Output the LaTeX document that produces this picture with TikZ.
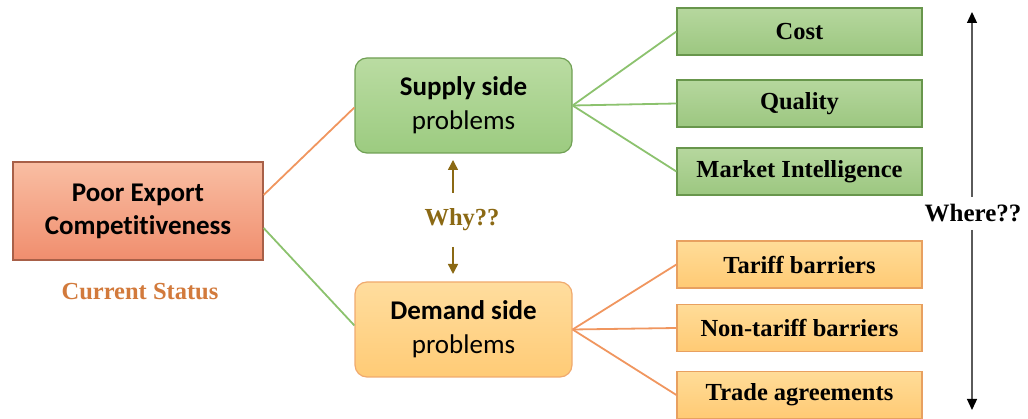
\documentclass[tikz,border=0pt]{standalone}
\usepackage{fontspec}
\setmainfont{Liberation Serif}
\newfontfamily\calibri[Ligatures=NoCommon]{Carlito}
\usetikzlibrary{arrows.meta}

\tikzset{every picture/.style={line width=0.5pt}}
\tikzset{
  mainbox/.style={draw={rgb,255:red,168;green,96;blue,72}, line width=1.2pt, top color={rgb,255:red,249;green,190;blue,163}, bottom color={rgb,255:red,240;green,142;blue,110}, minimum width=250pt, minimum height=98pt, align=center, inner sep=0pt, font=\calibri\bfseries\fontsize{27}{33}\selectfont},
  supplybox/.style={draw={rgb,255:red,112;green,160;blue,84}, line width=1.2pt, rounded corners=12pt, top color={rgb,255:red,186;green,220;blue,162}, bottom color={rgb,255:red,156;green,203;blue,128}, minimum width=217pt, minimum height=95pt, align=center, inner sep=0pt, font=\calibri\fontsize{27}{34}\selectfont},
  demandbox/.style={draw={rgb,255:red,240;green,170;blue,110}, line width=1.2pt, rounded corners=12pt, top color={rgb,255:red,255;green,221;blue,158}, bottom color={rgb,255:red,255;green,203;blue,118}, minimum width=217pt, minimum height=95pt, align=center, inner sep=0pt, font=\calibri\fontsize{27}{34}\selectfont},
  greenitem/.style={draw={rgb,255:red,104;green,150;blue,76}, line width=1.2pt, top color={rgb,255:red,182;green,215;blue,158}, bottom color={rgb,255:red,156;green,199;blue,128}, minimum width=245pt, minimum height=47pt, inner sep=0pt, font=\bfseries\fontsize{24.5}{28}\selectfont},
  orangeitem/.style={draw={rgb,255:red,232;green,160;blue,96}, line width=1.2pt, top color={rgb,255:red,255;green,220;blue,152}, bottom color={rgb,255:red,255;green,202;blue,116}, minimum width=245pt, minimum height=47pt, inner sep=0pt, font=\bfseries\fontsize{24.5}{28}\selectfont},
  greenline/.style={draw={rgb,255:red,140;green,194;blue,110}, line width=1.8pt},
  orangeline/.style={draw={rgb,255:red,240;green,150;blue,95}, line width=1.8pt},
  whyarrow/.style={draw={rgb,255:red,139;green,105;blue,20}, line width=1.4pt, -{Triangle[length=10pt,width=10pt]}},
  wherearrow/.style={draw={rgb,255:red,90;green,90;blue,90}, line width=1.3pt, -{Triangle[length=11pt,width=10pt,fill=black,color=black]}}
}

\begin{document}
\begin{tikzpicture}[x=1pt,y=1pt,yscale=-1,xscale=1]
\useasboundingbox (0,0) rectangle (1028,419);

%Shape: Rectangle
\node [mainbox] (poor) at (138,211) {Poor Export\\Competitiveness};
% Text Node
\node [text={rgb,255:red,210;green,122;blue,60}, font=\bfseries\fontsize{24.5}{28}\selectfont] (status) at (140,292) {Current Status};

%Rounded Rect
\node [supplybox] (supply) at (463.5,105.5) {\textbf{Supply side}\\problems};
%Rounded Rect
\node [demandbox] (demand) at (463.5,329.5) {\textbf{Demand side}\\problems};

%Shape: Rectangle
\node [greenitem] (cost) at (799.5,31.5) {Cost};
\node [greenitem] (quality) at (799.5,103.5) {Quality};
\node [greenitem] (market) at (799.5,171.5) {Market Intelligence};
%Shape: Rectangle
\node [orangeitem] (tariff) at (799.5,264.5) {Tariff barriers};
\node [orangeitem] (nontariff) at (799.5,328) {Non-tariff barriers};
\node [orangeitem] (trade) at (799.5,395) {Trade agreements};

%Straight Lines
\draw [orangeline] ([yshift=-16pt]poor.east) -- ([yshift=2pt]supply.west);
\draw [greenline] ([yshift=17pt]poor.east) -- ([yshift=-4pt]demand.west);
\draw [greenline] (supply.east) -- (cost.west);
\draw [greenline] (supply.east) -- (quality.west);
\draw [greenline] (supply.east) -- (market.west);
\draw [orangeline] (demand.east) -- (tariff.west);
\draw [orangeline] (demand.east) -- (nontariff.west);
\draw [orangeline] (demand.east) -- (trade.west);

% Text Node
\node [text={rgb,255:red,139;green,105;blue,20}, font=\bfseries\fontsize{24.5}{28}\selectfont] (why) at (462,220) {Why??};
\coordinate (whyup) at (453,160);
\coordinate (whydown) at (453,274);
\draw [whyarrow] (453,193) -- (whyup);
\draw [whyarrow] (453,247) -- (whydown);

% Text Node
\node [font=\bfseries\fontsize{25}{28}\selectfont] (where) at (973,213) {Where??};
\coordinate (wheretop) at (972,12);
\coordinate (wherebottom) at (972,410);
\draw [wherearrow] (972,197) -- (wheretop);
\draw [wherearrow] (972,230) -- (wherebottom);
\end{tikzpicture}
\end{document}
